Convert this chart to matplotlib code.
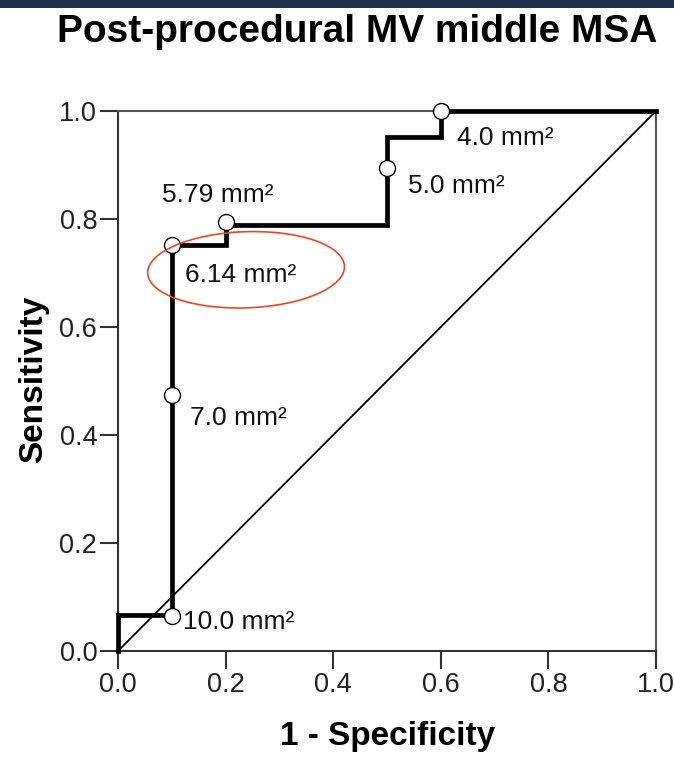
import matplotlib
matplotlib.use("Agg")
import matplotlib.pyplot as plt
from matplotlib.patches import Ellipse, Rectangle

plt.rcParams['font.family'] = ['Liberation Sans', 'DejaVu Sans']

# ROC step curve
fpr = [0.0, 0.0, 0.1, 0.1, 0.2, 0.2, 0.5, 0.5, 0.6, 0.6, 1.0]
tpr = [0.0, 0.067, 0.067, 0.752, 0.752, 0.788, 0.788, 0.952, 0.952, 1.0, 1.0]

# threshold markers
mark_x = [0.1, 0.1, 0.1, 0.2, 0.5, 0.6]
mark_y = [0.065, 0.474, 0.752, 0.795, 0.894, 1.0]

# threshold labels
lab_text = ["10.0 mm²", "7.0 mm²", "6.14 mm²", "5.79 mm²", "5.0 mm²", "4.0 mm²"]
lab_x = [0.120, 0.134, 0.125, 0.082, 0.539, 0.630]
lab_y = [0.041, 0.419, 0.683, 0.831, 0.848, 0.937]

ticks = [0.0, 0.2, 0.4, 0.6, 0.8, 1.0]
tick_labels = ["0.0", "0.2", "0.4", "0.6", "0.8", "1.0"]

fig = plt.figure(figsize=(6.74, 7.58), dpi=100)
fig.patch.set_facecolor('white')

# dark banner at top
fig.patches.append(Rectangle((0, 1 - 8 / 758), 1, 8 / 758, transform=fig.transFigure,
                             facecolor='#1f2f4a', edgecolor='none', zorder=0))

ax = fig.add_axes([118 / 674, 1 - 651 / 758, 538 / 674, 540 / 758])
ax.set_xlim(0, 1)
ax.set_ylim(0, 1)

ax.plot([0, 1], [0, 1], color='black', lw=1.3, zorder=2)
ax.plot(fpr, tpr, color='black', lw=3.4, solid_joinstyle='miter', zorder=3, clip_on=False)
ax.plot(mark_x, mark_y, linestyle='none', marker='o', markersize=11.5,
        markerfacecolor='white', markeredgecolor='black', markeredgewidth=1.0,
        zorder=4, clip_on=False)

for t, x, y in zip(lab_text, lab_x, lab_y):
    ax.text(x, y, t, fontsize=19, ha='left', va='baseline', color='#111111', zorder=5)

ell = Ellipse((0.238, 0.706), 0.366, 0.141, angle=2, fill=False,
              edgecolor='#e5492a', lw=1.2, zorder=6, clip_on=False)
ax.add_patch(ell)

ax.set_xticks(ticks)
ax.set_xticklabels(tick_labels)
ax.set_yticks(ticks)
ax.set_yticklabels(tick_labels)
ax.tick_params(axis='both', direction='out', length=13, width=1.5, pad=2,
               labelsize=19.5, color='#333333', labelcolor='#222222')

for s in ax.spines.values():
    s.set_color('#555555')
    s.set_linewidth(1.5)
ax.spines['left'].set_color('#333333')
ax.spines['bottom'].set_color('#333333')

fig.text(357 / 674, 1 - 42 / 758, "Post-procedural MV middle MSA", fontsize=28,
         fontweight='bold', ha='center', va='baseline')
fig.text(388 / 674, 1 - 745 / 758, "1 - Specificity", fontsize=24,
         fontweight='bold', ha='center', va='baseline')
fig.text(34 / 674, 1 - 379 / 758, "Sensitivity", fontsize=24, fontweight='bold',
         ha='center', va='center', rotation=90)

fig.savefig("out.png", dpi=100)
